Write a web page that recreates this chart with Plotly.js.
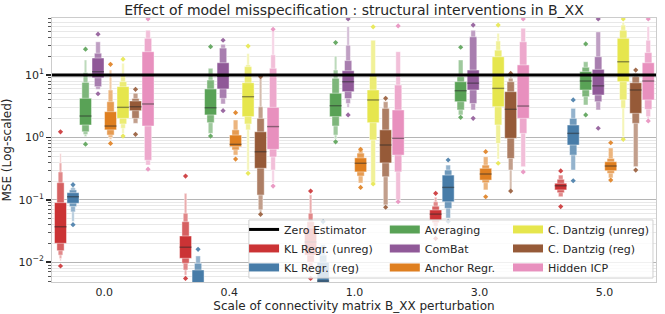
<!DOCTYPE html>
<html><head><meta charset="utf-8">
<script src="https://cdn.plot.ly/plotly-3.0.1.min.js"></script>
<style>html,body{margin:0;padding:0;background:#fff}#chart{width:665px;height:314px}</style>
</head><body><div id="chart"></div>
<script>
// ---- categories / labels ----
const categories = ['0.0', '0.4', '1.0', '3.0', '5.0'];
const seriesNames = ['KL Regr. (unreg)', 'KL Regr. (reg)', 'Averaging', 'ComBat', 'Anchor Regr.', 'C. Dantzig (unreg)', 'C. Dantzig (reg)', 'Hidden ICP'];
const zeroEstimatorName = 'Zero Estimator';
const zeroEstimator = [10, 10, 10, 10, 10];
const yTickValues = [0.01, 0.1, 1, 10];
const yTickLabels = ['10<sup>\u22122</sup>', '10<sup>\u22121</sup>', '10<sup>0</sup>', '10<sup>1</sup>'];

// ---- letter values per category: [low, high], innermost (IQR) first ----
const klUnregLevels = [
  [[0.0201, 0.09], [0.0153, 0.188], [0.013, 0.279], [0.0115, 0.39], [0.0105, 0.55]],
  [[0.01156, 0.0263], [0.0096, 0.0446], [0.0075, 0.061], [0.0062, 0.127]],
  [[0.013, 0.0353], [0.010, 0.0446], [0.0081, 0.061], [0.0066, 0.12]],
  [[0.0474, 0.0687], [0.043, 0.079], [0.038, 0.093], [0.0273, 0.11]],
  [[0.144, 0.184], [0.13, 0.213], [0.112, 0.249]]
];
const klUnregMedian = [0.037, 0.0174, 0.0211, 0.059, 0.168];
const klUnregOutliers = [[0.0087, 1.23], [0.0055, 0.24], [0.0055, 0.138], [0.024, 0.127], [0.078, 0.29]];

const klRegLevels = [
  [[0.088, 0.130], [0.078, 0.144], [0.064, 0.155], [0.045, 0.166]],
  [[0.003, 0.0075], [0.0022, 0.0096], [0.0015, 0.0126]],
  [[0.003, 0.01], [0.0022, 0.013], [0.0015, 0.019]],
  [[0.093, 0.249], [0.073, 0.30], [0.051, 0.36]],
  [[0.755, 1.58], [0.52, 2.02], [0.30, 2.92]]
];
const klRegMedian = [0.112, 0.0045, 0.005, 0.158, 1.16];
const klRegOutliers = [[0.040, 0.175], [0.0161], [0.0446], [0.045, 0.434], [0.202, 3.98]];

const averagingLevels = [
  [[1.58, 4.23], [1.23, 7.6], [1.12, 10.9], [1.03, 17.4]],
  [[2.29, 5.97], [1.72, 8.3], [1.16, 12.8]],
  [[2.15, 5.1], [1.52, 8.85], [1.09, 12], [0.95, 20]],
  [[3.73, 7.8], [2.75, 9.4], [2.29, 17.4]],
  [[5.75, 11.3], [4.49, 13.3], [3.3, 16.3]]
];
const averagingMedian = [2.2, 2.99, 3.22, 5.6, 8.0];
const averagingOutliers = [[0.78, 25.9], [1.05, 28.4], [0.85, 33], [2.1, 27.8], [2.29, 31.4]];

const combatLevels = [
  [[9.0, 18.7], [6.5, 22.3], [5.9, 34]],
  [[5.97, 15.7], [4.23, 27], [3.43, 31]],
  [[5.4, 11.7], [4.2, 17], [3.5, 30], [3.0, 60]],
  [[5.75, 12], [3.5, 41], [2.75, 52]],
  [[4.78, 12.3], [3.73, 19.6], [2.75, 49]]
];
const combatMedian = [11.3, 9.5, 7.8, 7.4, 6.7];
const combatOutliers = [[5.0, 45], [2.68, 36], [2.29, 79], [2.02, 63], [1.4, 79]];

const anchorLevels = [
  [[1.32, 2.58], [1.09, 3.73], [1.0, 5.75], [0.93, 12]],
  [[0.71, 1.09], [0.63, 1.32], [0.52, 1.9]],
  [[0.28, 0.47], [0.24, 0.56], [0.186, 0.63]],
  [[0.207, 0.32], [0.188, 0.36], [0.144, 0.49]],
  [[0.292, 0.408], [0.266, 0.46], [0.224, 0.676]]
];
const anchorMedian = [1.52, 0.774, 0.385, 0.259, 0.348];
const anchorOutliers = [[0.80, 14.8], [0.45, 2.49], [0.158, 0.645], [0.112, 0.59], [0.207, 0.82]];

const dantzigUnregLevels = [
  [[2.02, 6.5], [1.64, 7.8], [1.40, 10], [1.16, 15.4]],
  [[2.15, 7.5], [1.64, 13.6], [1.32, 14.5], [0.30, 22]],
  [[1.72, 5.75], [0.91, 10], [0.186, 36]],
  [[3.1, 19.6], [1.58, 25], [0.8, 35], [0.45, 46.5]],
  [[7.8, 38.7], [3.98, 52], [2.92, 63], [1.03, 70]]
];
const dantzigUnregMedian = [3.03, 4.49, 3.98, 6.1, 16.3];
const dantzigUnregOutliers = [[1.05, 17.9], [0.266, 29], [0.179, 59], [0.385, 63], [0.93, 79]];

const dantzigRegLevels = [
  [[2.68, 3.83], [2.02, 4.2], [1.68, 5.1]],
  [[0.32, 1.23], [0.119, 2.02], [0.069, 3.1], [0.062, 9.0]],
  [[0.39, 1.32], [0.234, 2.92], [0.083, 3.73]],
  [[0.966, 5.4], [0.46, 7.8], [0.30, 8.85], [0.144, 9.5]],
  [[2.43, 7.5], [1.68, 9.4], [0.34, 10.6]]
];
const dantzigRegMedian = [3.1, 0.59, 0.755, 2.82, 5.75];
const dantzigRegOutliers = [[1.12, 5.9], [0.0586, 9.4], [0.076, 4.23], [0.138, 10.6], [0.30, 12]];

const hiddenIcpLevels = [
  [[1.52, 23.6], [0.43, 38.7], [0.36, 52]],
  [[0.644, 3.03], [0.485, 12.8], [0.30, 21], [0.186, 52]],
  [[0.52, 2.75], [0.28, 6.9], [0.1, 23.6]],
  [[2.02, 14.5], [1.16, 34], [0.34, 56]],
  [[3.98, 15.7], [2.82, 22.8], [2.15, 36], [1.9, 60]]
];
const hiddenIcpMedian = [3.43, 1.49, 0.966, 3.18, 8.0];
const hiddenIcpOutliers = [[0.31, 79], [0.166, 54], [0.093, 61], [0.28, 79], [1.83, 79]];

// ---- styling ----
const FONT = 'DejaVu Sans, Arial, sans-serif';
const TEXT = '#262626';
const seriesColors = ['#cb3335', '#477ca8', '#59a256', '#905998', '#df7f20', '#e6e64d', '#965a38', '#e890be'];
const levelWidths = [0.096, 0.058, 0.037, 0.02, 0.012];
const levelFade = [0, 0.22, 0.42, 0.6, 0.75];
const hueSlot = 0.1;
const xRange = [-0.418, 4.412];
const yRange = [-2.317, 1.913];

const allLevels = [klUnregLevels, klRegLevels, averagingLevels, combatLevels, anchorLevels, dantzigUnregLevels, dantzigRegLevels, hiddenIcpLevels];
const allMedians = [klUnregMedian, klRegMedian, averagingMedian, combatMedian, anchorMedian, dantzigUnregMedian, dantzigRegMedian, hiddenIcpMedian];
const allOutliers = [klUnregOutliers, klRegOutliers, averagingOutliers, combatOutliers, anchorOutliers, dantzigUnregOutliers, dantzigRegOutliers, hiddenIcpOutliers];

function lighten(hex, f) {
  const r = parseInt(hex.slice(1, 3), 16), g = parseInt(hex.slice(3, 5), 16), b = parseInt(hex.slice(5, 7), 16);
  const m = v => Math.round(v + (255 - v) * f);
  return 'rgb(' + m(r) + ',' + m(g) + ',' + m(b) + ')';
}

const traces = [];
seriesNames.forEach((name, h) => {
  const off = (h - 3.5) * hueSlot;
  const bx = [], bbase = [], by = [], bw = [], bc = [];
  const mx = [], my = [];
  const ox = [], oy = [];
  categories.forEach((cat, c) => {
    const lv = allLevels[h][c];
    for (let i = lv.length - 1; i >= 0; i--) {
      bx.push(c + off); bbase.push(lv[i][0]); by.push(lv[i][1] - lv[i][0]);
      bw.push(levelWidths[i]); bc.push(lighten(seriesColors[h], levelFade[i]));
    }
    const half = levelWidths[0] / 2;
    mx.push(c + off - half, c + off + half, null);
    my.push(allMedians[h][c], allMedians[h][c], null);
    allOutliers[h][c].forEach(v => { ox.push(c + off); oy.push(v); });
  });
  traces.push({
    type: 'bar', x: bx, y: by, base: bbase, width: bw, showlegend: false, hoverinfo: 'skip',
    marker: {color: bc, line: {color: 'rgba(255,255,255,0.55)', width: 0.8}}
  });
  traces.push({
    type: 'scatter', mode: 'lines', x: mx, y: my, showlegend: false, hoverinfo: 'skip',
    line: {color: 'rgba(40,40,40,0.5)', width: 1.4}
  });
  traces.push({
    type: 'scatter', mode: 'markers', x: ox, y: oy, showlegend: false, hoverinfo: 'skip',
    marker: {symbol: 'diamond', size: 4, color: lighten(seriesColors[h], 0.1)}
  });
});

// zero estimator line across the full axis
traces.push({
  type: 'scatter', mode: 'lines',
  x: [xRange[0]].concat(categories.map((c, i) => i), [xRange[1]]),
  y: [zeroEstimator[0]].concat(zeroEstimator, [zeroEstimator[zeroEstimator.length - 1]]),
  line: {color: '#000', width: 3}, showlegend: false, hoverinfo: 'skip'
});

// legend entries (three columns)
const legendCols = ['legend', 'legend', 'legend2', 'legend2', 'legend2', 'legend3', 'legend3', 'legend3'];
traces.push({type: 'scatter', mode: 'lines', x: [null], y: [null], name: zeroEstimatorName,
  line: {color: '#000', width: 3}, legend: 'legend', hoverinfo: 'skip'});
seriesNames.forEach((name, h) => {
  traces.push({type: 'scatter', mode: 'lines', x: [null], y: [null], name: name,
    line: {color: seriesColors[h], width: 8}, legend: legendCols[h], hoverinfo: 'skip'});
});

const minorVals = [];
for (let d = -3; d <= 1; d++) for (let m = 2; m <= 9; m++) minorVals.push(m * Math.pow(10, d));

const legendBase = {yanchor: 'top', xanchor: 'left', y: 0.254, bgcolor: 'rgba(0,0,0,0)', borderwidth: 0,
  font: {family: FONT, size: 11, color: TEXT}};

const layout = {
  width: 665, height: 314,
  margin: {l: 52, r: 9, t: 18, b: 32},
  paper_bgcolor: '#fff', plot_bgcolor: '#fff',
  barmode: 'overlay',
  font: {family: FONT, color: TEXT},
  title: {text: 'Effect of model misspecification : structural interventions in B_XX',
    font: {family: FONT, size: 14, color: TEXT}, x: 0.5, xref: 'paper', y: 0.967, yref: 'container', yanchor: 'middle'},
  xaxis: {
    type: 'linear', range: xRange, tickmode: 'array', tickvals: categories.map((c, i) => i), ticktext: categories,
    showgrid: false, zeroline: false, showline: true, mirror: true, linecolor: '#cccccc', linewidth: 1,
    ticks: '', tickfont: {family: FONT, size: 11, color: TEXT},
    title: {text: 'Scale of connectivity matrix B_XX perturbation', font: {family: FONT, size: 12, color: TEXT}, standoff: 0}
  },
  yaxis: {
    type: 'log', range: yRange, tickmode: 'array', tickvals: yTickValues, ticktext: yTickLabels,
    showgrid: true, gridcolor: '#b5b5b5', gridwidth: 1.3, zeroline: false,
    showline: true, mirror: true, linecolor: '#cccccc', linewidth: 1,
    ticks: 'outside', ticklen: 5, tickwidth: 1.5, tickcolor: TEXT,
    tickfont: {family: FONT, size: 11, color: TEXT},
    minor: {tickmode: 'array', tickvals: minorVals, ticks: 'outside', ticklen: 3, tickwidth: 1, tickcolor: '#555',
      showgrid: true, gridcolor: '#e8e8e8', gridwidth: 1},
    title: {text: 'MSE (Log-scaled)', font: {family: FONT, size: 12, color: TEXT}, standoff: 4}
  },
  legend: Object.assign({}, legendBase, {x: 0.318}),
  legend2: Object.assign({}, legendBase, {x: 0.551}),
  legend3: Object.assign({}, legendBase, {x: 0.755}),
  shapes: [{type: 'rect', xref: 'paper', yref: 'paper', x0: 0.326, x1: 0.995, y0: 0.015, y1: 0.235,
    fillcolor: 'rgba(255,255,255,0.8)', line: {color: '#d0d0d0', width: 1}, layer: 'above'}],
  showlegend: true
};

Plotly.newPlot('chart', traces, layout, {staticPlot: true, displayModeBar: false});
</script>
</body></html>
